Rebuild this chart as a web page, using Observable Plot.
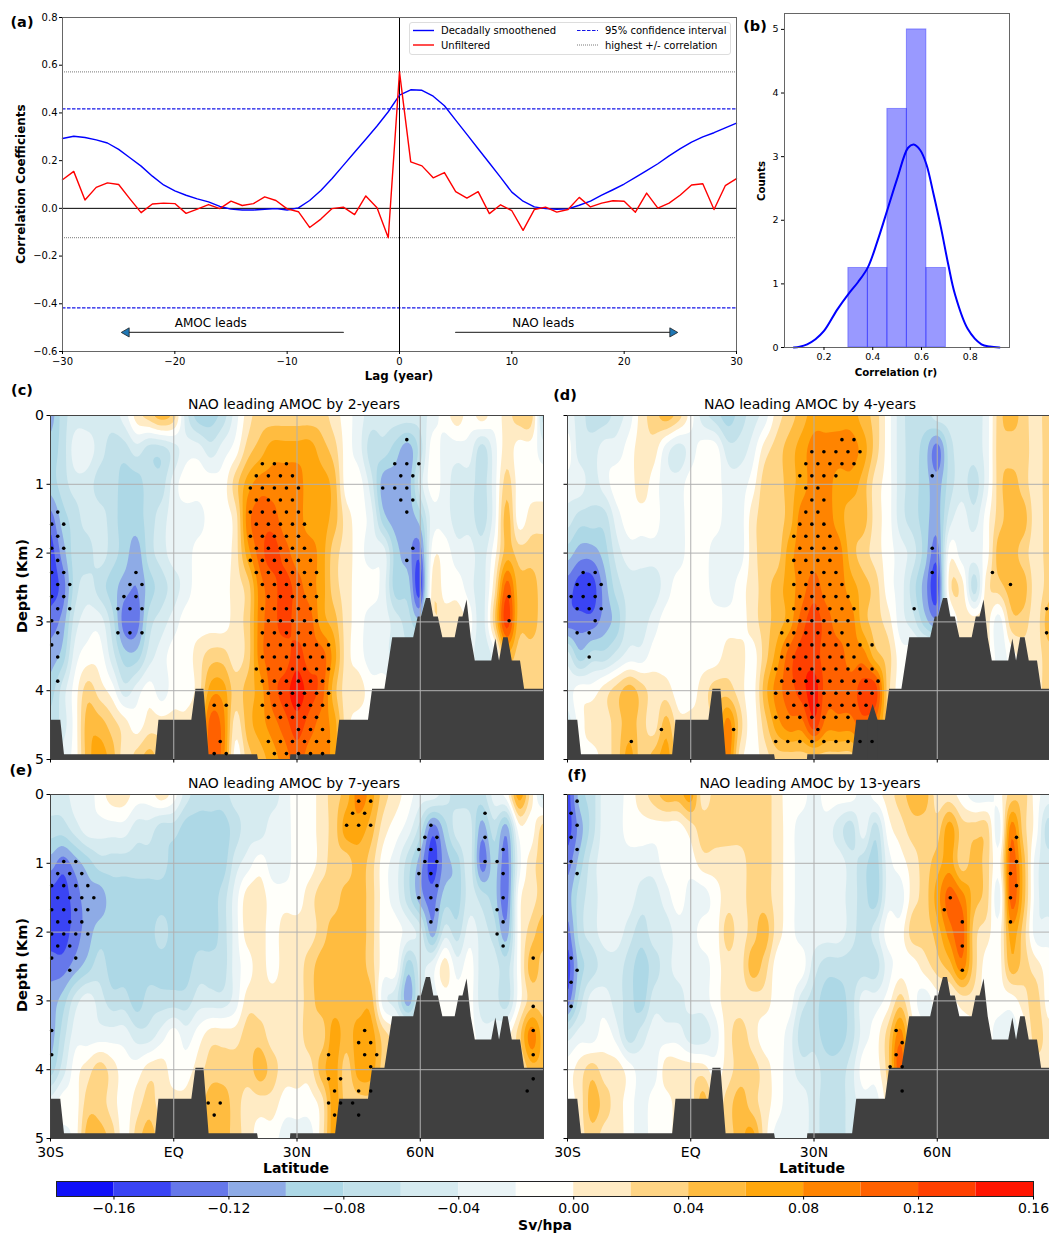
<!DOCTYPE html>
<html><head><meta charset="utf-8">
<script src="https://cdn.jsdelivr.net/npm/d3@7"></script>
<script src="https://cdn.jsdelivr.net/npm/@observablehq/plot@0.6"></script>
<style>
html,body{margin:0;padding:0;background:#fff;overflow:hidden;width:1049px;height:1233px}
#root{position:relative;width:1049px;height:1233px;overflow:hidden;font-family:"DejaVu Sans",sans-serif;color:#000}
#root svg{position:absolute;overflow:visible;background:none}
.lab{position:absolute;white-space:nowrap;transform:translate(-50%,-50%)}
.rot{transform:translate(-50%,-50%) rotate(-90deg)}
</style></head><body><div id="root"></div>
<script>
// ---------- panel (a) ----------
const lags=[-30,-29,-28,-27,-26,-25,-24,-23,-22,-21,-20,-19,-18,-17,-16,-15,-14,-13,-12,-11,-10,-9,-8,-7,-6,-5,-4,-3,-2,-1,0,1,2,3,4,5,6,7,8,9,10,11,12,13,14,15,16,17,18,19,20,21,22,23,24,25,26,27,28,29,30];
const unfiltered=[.12,.155,.035,.088,.107,.10,.04,-.018,.018,.022,.02,-.021,-.003,.016,-.001,.03,.012,.02,.048,.033,-.002,-.014,-.08,-.045,-.001,.005,-.026,.052,.003,-.123,.572,.195,.178,.128,.15,.07,.043,.07,-.022,.015,-.01,-.092,-.005,.005,-.016,-.005,.046,.006,.022,.032,.03,-.016,.064,.001,.022,.056,.098,.103,-.005,.095,.125];
const smoothed=[.293,.302,.297,.287,.274,.247,.212,.177,.135,.098,.073,.055,.04,.027,.008,-.003,-.007,-.007,-.004,-.001,-.007,.002,.033,.075,.125,.18,.235,.29,.345,.405,.475,.497,.495,.47,.43,.37,.31,.25,.19,.13,.068,.03,.006,-.001,-.004,-.002,.013,.03,.055,.078,.102,.13,.158,.187,.22,.25,.278,.3,.317,.337,.357];
const confidence=[.417,-.417];
const extremes=[.572,-.123];
const aTicksY=[-.6,-.4,-.2,0,.2,.4,.6,.8];
const aTicksX=[-30,-20,-10,0,10,20,30];
// ---------- panel (b) ----------
const binEdges=[.3,.38,.46,.54,.62,.70];
const binCounts=[1.25,1.25,3.75,5,1.25];
const kdeX=[.076,.1,.131,.165,.2,.255,.3,.34,.38,.42,.463,.5,.545,.568,.595,.62,.65,.68,.71,.737,.79,.846,.88,.92];
const kdeY=[0,.012,.05,.13,.26,.6,.84,1.03,1.26,1.68,2.2,2.65,3.14,3.19,3.1,2.88,2.4,1.88,1.3,.84,.29,.05,.015,0];
// ---------- sections: values in 0.01 Sv/hPa, depth rows 0,0.5,...5 km, latitude -30..90 every 3 deg ----------
const levels=[-18,-16,-14,-12,-10,-8,-6,-4,-2,0,2,4,6,8,10,12,14,16];
const bandColors=["#1010f8","#3a44f4","#6678ea","#8eabe6","#add8e6","#c2e1ea","#d6ebf0","#eaf4f6","#fffffa","#ffebc4","#ffd585","#ffbc40","#ffa70d","#ff8400","#ff6100","#ff4000","#ff1500"];
const sectionC=[
[-11,-7,-5,-5,-5,-5,-3,1,3,5, 3,-5,-9,-9,-7,-3,1,3,3,3, 3,3,3,1,-1,-3,-5,-5,-5,-5, -5,-3,-1,1,-1,1,-1,1,3,3,-7],
[-9,-7,-3,-3,-5,-7,-7,-5,-7,-7, -5,-3,-3,-5,-3,-1,3,5,7,7, 7,7,5,3,-1,-3,-7,-7,-9,-11, -7,-1,-3,-3,-3,-7,-3,1,-1,-1,-3],
[-9,-7,-5,-5,-7,-7,-9,-9,-7,-7, -3,-1,-1,-1,-1,3,7,9,9,9, 9,7,7,5,-1,-1,-5,-11,-11,-11, -5,-1,-3,-5,-5,-7,-3,3,-1,-1,-1],
[-13,-9,-7,-5,-5,-7,-9,-9,-7,-5, -3,-3,-3,-1,-1,1,9,11,11,9, 9,7,7,5,1,-1,-3,-9,-11,-11, -9,-3,-3,-5,-5,-7,-3,5,-1,1,1],
[-15,-11,-7,-7,-5,-7,-9,-11,-7,-5, -3,-3,-1,-1,-1,1,7,11,13,11, 9,9,7,3,1,-1,-3,-3,-9,-11, -13,-1,-1,-3,-3,-5,-1,5,3,3,3],
[-15,-13,-7,-5,-7,-9,-11,-12,-9,-7, -5,-3,-1,-1,-1,1,3,9,11,13, 11,9,7,3,1,-1,-1,-3,-9,-9, -15,1,-1,-1,-3,-5,1,11,5,5,3],
[-13,-11,-5,-3,-3,-7,-13,-13,-7,-5, -3,-1,-1,-1,-1,1,3,9,11,13, 11,11,7,5,1,-1,-3,-3,-5,-7, -9,1,1,1,-1,-5,3,13,5,5,3],
[-11,-9,-3,-1,-1,-5,-9,-9,-5,-3, -1,-1,1,3,3,1,3,9,11,11, 13,11,11,7,1,-1,-3,-3,-5,-5, -3,-3,-1,-1,-3,-5,-3,5,3,3,3],
[-9,-5,-1,3,1,-1,-5,-3,-1,-3, -1,-1,1,7,7,3,5,7,11,13, 15,13,11,5,1,1,-1,-1,-1,-1, -1,-1,-1,-1,-1,-1,-1,1,3,3,3],
[-7,-5,-1,5,5,3,1,-1,1,1, 1,1,3,11,9,1,5,7,9,11, 13,11,9,7,1,-1,-1,-1,-1,-1, -1,-1,-1,-1,-1,-1,-1,1,3,3,3],
[-5,-3,-1,5,7,5,1,3,5,3, 3,3,3,11,9,-1,3,5,7,9, 11,9,9,7,1,-1,-1,-1,-1,-1, -1,-1,-1,-1,-1,-1,-1,1,3,3,3]];
const sectionD=[
[-3,-5,-7,-7,-5,-3,1,3,5,3, -1,-5,-7,-9,-7,-5,-3,1,3,5, 7,7,7,7,5,3,-1,-5,-7,-7, -5,-5,-5,-5,-3,3,5,3,1,3,1],
[-1,-5,-5,-3,-3,-1,1,1,-3,-5, -3,-1,-1,-5,-5,-3,1,3,5,7, 9,9,9,9,7,3,-1,-5,-7,-9, -13,-7,-5,-5,-3,3,3,3,1,3,3],
[-3,-3,-5,-3,-1,-1,1,-1,-3,-3, -1,-1,-1,-3,-3,-1,3,3,5,7, 9,9,7,7,5,1,-1,-5,-7,-9, -11,-7,-5,-7,-3,3,5,3,1,3,3],
[-5,-7,-7,-7,-3,-1,-1,-1,-3,-3, -1,-1,-1,-3,-3,1,3,3,5,9, 9,9,7,5,5,1,-1,-5,-7,-9, -11,-5,-3,-5,-1,3,5,5,1,3,3],
[-9,-11,-11,-9,-5,-3,-3,-3,-3,-3, -1,-1,-3,-3,-3,1,3,3,7,9, 9,9,9,5,3,1,-1,-3,-5,-9, -13,-1,-3,-3,-1,5,5,3,1,3,5],
[-13,-15,-15,-11,-7,-5,-5,-5,-3,-1, -1,-1,-3,-3,-1,1,3,5,7,9, 11,9,9,7,5,3,-1,-3,-7,-11, -15,1,1,-7,1,3,5,5,1,3,5],
[-13,-13,-13,-11,-9,-5,-5,-3,-1,-1, -1,-1,-1,-1,-1,1,3,5,7,11, 13,11,9,9,5,3,1,-3,-5,-9, -11,-3,1,1,1,-3,3,3,1,5,5],
[-5,-9,-7,-7,-5,-3,-3,-1,-1,-1, -1,-1,-1,1,1,-1,3,7,11,13, 13,11,11,9,9,5,3,-1,-1,-1, -1,1,1,1,1,-3,-1,1,1,3,3],
[-3,-1,-1,1,3,5,3,1,1,-1, -1,1,3,3,1,-1,5,9,11,13, 15,11,11,11,13,13,3,-1,-1,-1, -1,-1,-1,-1,-1,-1,-1,1,1,3,3],
[-5,-1,1,1,3,5,3,1,5,1, 1,1,3,9,3,-1,3,7,9,9, 13,9,9,9,11,9,3,-1,-1,-1, -1,-1,-1,-1,-1,-1,-1,1,1,3,3],
[-5,-1,-1,1,3,7,3,5,7,3, 3,3,3,9,1,-1,1,3,3,3, 3,3,3,3,5,5,3,-1,-1,-1, -1,-1,-1,-1,-1,-1,-1,1,1,3,3]];
const sectionE=[
[-5,-5,-3,-3,-1,1,1,-1,-1,1, -1,-5,-7,-7,-7,-5,-5,-5,-5,-3, -1,-1,1,3,5,9,7,3,1,-1, -3,-3,-5,-7,-7,-7,-3,-1,7,1,-5],
[-7,-7,-5,-3,-3,-3,-3,-5,-5,-7, -7,-9,-9,-9,-9,-7,-5,-5,-3,-3, -1,-1,1,3,7,7,5,1,-1,-3, -7,-13,-9,-5,-5,-11,-7,-11,-1,-1,3],
[-11,-13,-11,-9,-7,-7,-7,-7,-7,-7, -9,-9,-9,-9,-9,-5,-3,-1,-3,-3, -1,-1,1,3,3,5,3,-1,-3,-7, -11,-15,-11,-9,-5,-13,-9,-13,-3,1,3],
[-15,-15,-13,-11,-11,-9,-9,-9,-9,-9, -9,-9,-9,-9,-7,-3,1,1,-1,-1, -1,1,3,3,5,5,3,-1,-3,-7, -11,-13,-9,-9,-5,-7,-9,-13,-1,1,3],
[-15,-15,-13,-11,-9,-9,-9,-9,-9,-7, -9,-9,-9,-9,-7,-3,1,1,-1,1, 1,1,3,5,5,5,3,-1,-1,-3, -5,-11,-5,-7,-3,-5,-7,-11,-1,3,5],
[-13,-13,-11,-9,-7,-9,-9,-9,-9,-9, -9,-9,-7,-7,-7,-3,-1,1,-1,1, 1,3,5,5,5,5,3,-1,-1,-9, -5,-3,1,-3,-1,-5,-5,-7,-1,5,3],
[-11,-9,-5,-3,-5,-7,-7,-9,-7,-7, -7,-7,-5,-5,-5,-3,1,1,1,1, 1,3,5,5,5,5,5,-3,-5,-11, -5,-3,-1,-1,-1,-5,-5,-7,-1,3,3],
[-11,-7,-3,-3,-3,-3,-3,-5,-5,-3, -1,-3,-1,1,1,1,3,3,1,1, 1,3,3,7,5,7,7,3,1,-1, -1,-1,-1,-1,-1,-3,-3,-1,3,9,5],
[-9,-5,-1,1,3,1,-1,-1,1,1, -1,-1,1,3,3,3,3,5,3,1, 1,1,5,7,3,7,7,3,1,-1, -1,-1,-1,-1,-1,-1,-1,-1,1,5,5],
[-3,-1,-1,3,3,1,-1,1,3,1, 1,1,3,5,5,3,1,1,1,-1, -1,-1,1,7,3,3,3,1,1,-1, -1,-1,-1,-1,-1,-1,-1,-1,1,3,3],
[-3,-3,-1,5,5,3,-1,3,5,3, 3,3,3,5,5,3,1,-1,-1,-3, -3,-3,1,7,3,3,3,1,1,-1, -1,-1,-1,-1,-1,-1,-1,-1,1,3,3]];
const sectionF=[
[-15,-9,-7,-3,-3,-1,1,3,5,5, 7,1,3,3,3,3,3,1,-1,-1, -3,-1,-1,-1,-3,-1,1,3,5,5, 1,1,-1,-3,-3,-1,3,3,-1,-3,-3],
[-15,-11,-7,-3,-3,-1,-1,-1,-1,-1, 1,3,3,3,3,3,3,1,-1,-3, -3,-3,-5,-7,-3,-7,-1,1,3,3, 3,7,3,3,3,-3,9,3,-1,-7,-3],
[-13,-9,-5,-3,-3,-3,-3,-3,-1,-1, -1,1,1,1,1,3,3,1,-1,-3, -3,-3,-3,-5,-7,-9,-3,-1,1,3, 5,7,3,5,3,-1,11,5,-3,-5,-5],
[-11,-7,-5,-3,-3,-3,-5,-5,-3,-1, -3,-3,-1,1,1,3,3,1,-1,-3, -3,-3,-3,-5,-7,-9,-3,-3,1,3, 7,11,9,5,3,-3,11,5,-3,-5,-5],
[-13,-7,-5,-3,-3,-5,-7,-5,-5,-3, -3,-1,-1,3,1,3,5,1,-1,-3, -3,-3,-3,-5,-7,-5,-1,-1,3,3, 5,9,11,3,1,-1,7,3,-3,-3,-3],
[-15,-9,-7,-5,-5,-7,-9,-7,-5,-3, -3,-3,-1,1,1,5,3,-1,-1,-1, -5,-7,-7,-7,-7,-7,-3,-1,-1,1, 3,5,9,3,-1,-1,5,3,1,-1,-1],
[-13,-7,-3,-3,-5,-7,-9,-5,-5,-5, -3,-3,-1,1,1,1,1,-1,-1,-5, -7,-9,-9,-7,-3,-3,-1,3,-1,-3, -1,-1,1,1,-1,-1,-1,1,3,-1,-1],
[-5,-3,-3,-1,-3,-7,-5,-3,-3,-3, -5,-5,-3,1,3,1,-1,-1,-3,-7, -7,-9,-9,-7,-3,-1,3,9,1,-1, -1,-1,-1,-1,-1,-3,-3,-1,3,1,1],
[-1,1,3,1,1,-1,-3,-3,1,1, 1,1,-1,1,3,3,1,-1,-3,-5, -5,-7,-7,-5,-1,-1,3,11,1,-1, -1,-1,-1,-1,-1,-1,-1,-1,1,1,1],
[-1,1,5,3,1,-1,-3,-1,-1,1, 1,5,1,3,5,3,1,-1,-3,-3, -5,-7,-7,-5,-3,-3,1,3,1,-1, -1,-1,-1,-1,-1,-1,-1,-1,1,1,1],
[-1,1,3,1,1,-1,-3,-1,-1,1, 1,3,1,3,5,7,1,-3,-3,-3, -5,-7,-7,-5,-3,-3,1,1,1,-1, -1,-1,-1,-1,-1,-1,-1,-1,1,1,1]];
// ---------- sea floor ----------
const floorLat=[-30,-27.5,-26.6,-4.4,-3.6,4.4,5.4,7.35,8.6,20.4,20.6,28.4,28.5,39.4,40.4,47.4,48.4,51.4,53.3,58.4,59.5,60.3,61.5,62.5,63.3,64.4,65.5,68.5,69.5,70.4,71.4,72.4,73.4,77.4,78.4,79.3,80.3,81.4,82.4,84.4,85.4,90];
const floorDepth=[4.43,4.43,4.93,4.93,4.43,4.43,3.98,3.98,4.93,4.93,5,5,4.93,4.93,4.43,4.43,3.98,3.98,3.23,3.23,2.93,2.93,2.66,2.66,2.93,2.93,3.23,3.23,2.93,2.93,2.68,3.23,3.57,3.57,3.25,3.57,3.23,3.23,3.57,3.57,3.98,3.98];
const ridgeLat=[43.2,44.4,45.6];
const ridgeDepth=[4.43,4.2,4.43];
// ---------- stippling: [row, first column, last column] on the hatch lattice ----------
const stipC=[[2,29,29],[4,28,30],[5,29,30],[6,27,29],[7,29,30],[8,29,29],[11,30,30],[12,29,29],
[8,0,0],[9,0,1],[10,0,0],[11,0,1],[12,0,0],[13,0,1],[14,0,1],[15,0,1],[16,0,1],[17,0,0],[18,0,0],[19,0,0],[20,0,0],[22,0,0],
[13,7,7],[14,6,7],[15,6,7],[16,5,7],[18,5,7],
[4,17,19],[5,17,20],[6,16,20],[7,17,20],[8,16,20],[9,17,21],[10,16,20],[11,17,21],[12,16,21],[13,17,22],[14,17,21],[15,18,22],[16,17,21],[17,18,22],[18,17,21],[19,18,23],[20,17,22],[21,17,23],[22,17,22],[23,18,23],[24,17,22],[25,18,22],[26,20,22],[27,18,23],[28,18,22],
[24,13,14],[27,14,14],[28,13,14],[15,38,38],[17,38,38]];
const stipD=[[2,22,23],[3,20,24],[4,19,23],[5,19,22],[6,19,20],[7,20,21],[8,19,20],[9,19,21],[10,18,21],[11,19,22],[12,18,21],[13,19,22],[14,18,22],[15,19,23],[16,18,23],[17,18,23],[18,17,22],[19,18,25],[20,17,23],[21,17,25],[22,17,25],[23,17,25],[24,18,24],[25,17,23],[26,20,20],[27,17,25],
[13,1,2],[14,0,2],[15,0,2],[16,0,2],[17,2,2],[18,0,1],[20,1,1],
[5,30,30],[11,30,30],[13,30,30],[16,28,28],[26,7,7],[27,5,5],[26,13,13],[13,35,35],[14,36,36],[16,39,39],[18,39,39]];
const stipE=[[5,1,2],[6,0,2],[7,0,3],[8,0,3],[9,0,3],[10,0,2],[11,0,3],[12,0,1],[13,0,0],[13,2,2],[14,1,1],[19,0,0],[21,0,0],
[0,25,26],[1,25,26],[2,24,26],
[2,31,31],[3,31,32],[4,30,31],[5,31,32],[6,30,31],[7,32,32],[8,30,31],[9,32,32],[10,31,31],
[1,36,36],[3,36,36],[4,37,37],[5,36,37],[6,37,37],[8,37,37],[9,37,37],[10,37,37],[11,37,37],[12,37,37],
[19,26,26],[20,25,26],[21,23,23],[21,26,27],[22,26,26],[23,23,24],[24,23,23],[24,25,26],[25,23,25],[26,23,23],[26,25,25],
[26,13,13],[25,13,14],[13,40,40],[17,40,40],[19,40,40],[21,40,40],[23,40,40],[24,39,39]];
const stipF=[[0,0,0],[1,0,0],[2,0,0],[3,0,0],[4,0,0],[5,0,0],[6,0,0],[13,0,0],[14,0,0],[15,0,0],[17,0,0],
[3,37,37],[4,36,36],[5,37,37],[6,36,36],[7,37,37],[8,36,36],[8,31,31],[9,31,31],[10,32,32],[10,36,36],[12,32,32],[14,32,32],
[19,27,27],[20,27,27],[21,27,27],[22,26,27],[24,27,27]];
const depthTicks=[0,1,2,3,4,5];
const latTicks=[-30,0,30,60];
const latNames=["30S","EQ","30N","60N"];
const cbarTicks=[-.16,-.12,-.08,-.04,0,.04,.08,.12,.16];

const root=document.getElementById("root");
const FONT='"DejaVu Sans", sans-serif';
function place(svg,left,top){svg.style.left=left+"px";svg.style.top=top+"px";root.appendChild(svg);}
function label(t,x,y,size,bold,rot){const s=document.createElement("div");s.className="lab"+(rot?" rot":"");s.textContent=t;s.style.left=x+"px";s.style.top=y+"px";s.style.fontSize=size+"px";if(bold)s.style.fontWeight="bold";root.appendChild(s);}
const zip=(a,b)=>a.map((v,i)=>({x:v,y:b[i]}));
const fmt1=d3.format(".1f");

// panel a
place(Plot.plot({width:745,height:385,marginLeft:62,marginRight:9,marginTop:17,marginBottom:34,
 style:{fontFamily:FONT,fontSize:"10px",color:"#000",background:"none"},
 x:{domain:[-30,30],axis:null},y:{domain:[-.6,.8],axis:null},
 marks:[
  Plot.ruleY(extremes,{stroke:"#555",strokeWidth:.8,strokeDasharray:"1,1"}),
  Plot.ruleY(confidence,{stroke:"#1515e8",strokeWidth:1.1,strokeDasharray:"3.5,1.5"}),
  Plot.ruleY([0],{stroke:"#000",strokeWidth:1}),
  Plot.ruleX([0],{stroke:"#000",strokeWidth:1}),
  Plot.line(zip(lags,smoothed),{x:"x",y:"y",stroke:"#0000ff",strokeWidth:1.4}),
  Plot.line(zip(lags,unfiltered),{x:"x",y:"y",stroke:"#ff0000",strokeWidth:1.4}),
  Plot.line(zip([-5,-24.5],[-.52,-.52]),{x:"x",y:"y",stroke:"#444",strokeWidth:1.2}),
  Plot.line(zip([5,24.5],[-.52,-.52]),{x:"x",y:"y",stroke:"#444",strokeWidth:1.2}),
  Plot.dot(zip([-24.3],[-.52]),{x:"x",y:"y",symbol:"triangle",rotate:-90,r:3.4,fill:"#1f77b4",stroke:"#222",strokeWidth:.8}),
  Plot.dot(zip([24.3],[-.52]),{x:"x",y:"y",symbol:"triangle",rotate:90,r:3.4,fill:"#1f77b4",stroke:"#222",strokeWidth:.8}),
  Plot.text(["AMOC leads"],{x:()=>-16.8,y:()=>-.482,fontSize:12,fill:"#000"}),
  Plot.text(["NAO leads"],{x:()=>12.8,y:()=>-.482,fontSize:12,fill:"#000"}),
  Plot.frame({stroke:"#666",strokeWidth:1}),
  Plot.axisX({ticks:aTicksX,tickSize:3,tickPadding:3,label:null,fontSize:10,tickFormat:d3.format("d"),anchor:"bottom"}),
  Plot.axisY({ticks:aTicksY,tickSize:3,tickPadding:2,label:null,fontSize:10,tickFormat:fmt1,anchor:"left"})
 ]}),0,0);

// panel b
place(Plot.plot({width:270,height:385,marginLeft:44,marginRight:1,marginTop:13,marginBottom:38,
 style:{fontFamily:FONT,fontSize:"10px",color:"#000",background:"none"},
 x:{domain:[.038,.961],axis:null},y:{domain:[0,5.25],axis:null},
 marks:[
  Plot.rectY(binCounts.map((c,i)=>({a:binEdges[i],b:binEdges[i+1],c})),{x1:"a",x2:"b",y1:()=>0,y2:"c",fill:"#0000ff",fillOpacity:.4,stroke:"#0000ff",strokeOpacity:.35,strokeWidth:1}),
  Plot.line(zip(kdeX,kdeY),{x:"x",y:"y",stroke:"#0000ff",strokeWidth:2,curve:"catmull-rom"}),
  Plot.frame({stroke:"#666",strokeWidth:1}),
  Plot.axisX({ticks:[.2,.4,.6,.8],tickSize:3,tickPadding:3,label:null,fontSize:9.5,tickFormat:fmt1,anchor:"bottom"}),
  Plot.axisY({ticks:[0,1,2,3,4,5],tickSize:3,tickPadding:3,label:null,fontSize:9.5,tickFormat:d3.format("d"),anchor:"left"})
 ]}),740,0);

// legend of panel a
const lg=document.createElement("div");
lg.style.cssText="position:absolute;left:409px;top:22px;width:320px;height:31px;border:1px solid #ddd;border-radius:3px;background:rgba(255,255,255,.85);font-size:10px";
lg.innerHTML=`<svg width="322" height="33" style="left:0;top:0">
<line x1="3" x2="24" y1="7.5" y2="7.5" stroke="#00f" stroke-width="1.4"/><line x1="3" x2="24" y1="22" y2="22" stroke="#f00" stroke-width="1.4"/>
<line x1="167" x2="188" y1="7.5" y2="7.5" stroke="#1515e8" stroke-width="1.1" stroke-dasharray="3.5,1.5"/><line x1="167" x2="188" y1="22" y2="22" stroke="#555" stroke-width=".8" stroke-dasharray="1,1"/>
<text x="31" y="11" font-size="10">Decadally smoothened</text><text x="31" y="25.5" font-size="10">Unfiltered</text>
<text x="195" y="11" font-size="10">95% confidence interval</text><text x="195" y="25.5" font-size="10">highest +/- correlation</text></svg>`;
root.appendChild(lg);

// smooth reading of a section between its grid values, sampled by Plot.contour
function sampler(values){
 const cr=(a,b,c,d,t)=>.5*(2*b+(c-a)*t+(2*a-5*b+4*c-d)*t*t+(3*b-a-3*c+d)*t*t*t);
 const at=(i,j)=>values[Math.max(0,Math.min(10,j))][Math.max(0,Math.min(40,i))];
 return (lat,depth)=>{
  const u=(lat+30)/3,v=depth/.5,i=Math.floor(u),j=Math.floor(v),s=u-i,t=v-j;
  const r=[-1,0,1,2].map(q=>cr(at(i-1,j+q),at(i,j+q),at(i+1,j+q),at(i+2,j+q),s));
  return cr(r[0],r[1],r[2],r[3],t);
 };
}
// sections
function lattice(rows,off,kOff){const out=[];for(const [k,a,b] of rows)for(let n=a;n<=b;n++)out.push({lat:-30+2.93*(n+off+(k%2===0?.5:0)),depth:(k+kOff)*.1755});return out;}
function section(values,stip,off,kOff,left,top,showY,showX,extra){
 const marks=[
  Plot.contour({x1:-30,x2:90,y1:0,y2:5,pixelSize:2,fill:sampler(values),thresholds:levels,stroke:"none",clip:true}),
  Plot.areaY(zip(floorLat,floorDepth),{x:"x",y1:"y",y2:()=>5,fill:"#404040"})
 ];
 if(extra)marks.push(Plot.areaY(zip(ridgeLat,ridgeDepth),{x:"x",y1:"y",y2:()=>5,fill:"#404040"}));
 marks.push(
  Plot.gridX(latTicks,{stroke:"#b0b0b0",strokeOpacity:1,strokeWidth:1}),
  Plot.gridY([1,2,3,4],{stroke:"#b0b0b0",strokeOpacity:1,strokeWidth:1}),
  Plot.dot(lattice(stip,off,kOff),{x:"lat",y:"depth",r:1.8,fill:"#000",stroke:"none"}),
  Plot.frame({stroke:"#444",strokeWidth:1}),
  Plot.axisX({ticks:latTicks,tickSize:3.5,tickPadding:5,label:null,fontSize:14,anchor:"bottom",tickFormat:showX?(d=>latNames[latTicks.indexOf(d)]):()=>""}),
  Plot.axisY({ticks:depthTicks,tickSize:3.5,tickPadding:3,label:null,fontSize:14,anchor:"left",tickFormat:showY?d3.format("d"):()=>""})
 );
 place(Plot.plot({width:493+30+10,height:344+10+30,marginLeft:30,marginRight:10,marginTop:10,marginBottom:30,
  style:{fontFamily:FONT,fontSize:"14px",color:"#000",background:"none"},
  x:{domain:[-30,90],axis:null},y:{domain:[5,0],axis:null},
  color:{type:"threshold",domain:levels,range:["#0000ff",...bandColors,"#ff0000"]},
  marks}),left-30,top-10);
}
section(sectionC,stipC,.1,0,50,414.5,true,false,false);
section(sectionD,stipD,.3,0,566.5,414.5,false,false,true);
section(sectionE,stipE,.1,.55,50,793.5,true,true,false);
section(sectionF,stipF,.3,.55,566.5,793.5,false,true,false);

// colour bar
const bandRows=bandColors.map((c,i)=>({a:levels[i]/100,b:(i<levels.length-1?levels[i+1]:18)/100,c}));
place(Plot.plot({width:1049,height:48,marginLeft:56,marginRight:16,marginTop:1,marginBottom:32,
 style:{fontFamily:FONT,fontSize:"14px",color:"#000",background:"none"},
 x:{domain:[-.18,.16],axis:null},y:{domain:[0,1],axis:null},
 marks:[
  Plot.rect(bandRows.filter(r=>r.a<.16),{x1:"a",x2:"b",y1:()=>0,y2:()=>1,fill:"c"}),
  Plot.frame({stroke:"#222",strokeWidth:1}),
  Plot.axisX({ticks:cbarTicks,tickSize:3.5,tickPadding:3,label:null,fontSize:14,anchor:"bottom",tickFormat:d3.format(".2f")})
 ]}),0,1179.5);

// text
label("(a)",22,22,14.5,true);label("(b)",755,26,14.5,true);label("(c)",22,390,14.5,true);label("(d)",565,395,14.5,true);label("(e)",21,770,14.5,true);label("(f)",577,775,14.5,true);
label("Lag (year)",399,376,11.8,true);
label("Correlation Coefficients",21,184,12,true,true);
label("Counts",761,181,10.2,true,true);
label("Correlation (r)",896,372,10.2,true);
label("NAO leading AMOC by 2-years",294,404,14);
label("NAO leading AMOC by 4-years",810,404,14);
label("NAO leading AMOC by 7-years",294,783,14);
label("NAO leading AMOC by 13-years",810,783,14);
label("Depth (Km)",22,586,14.5,true,true);
label("Depth (Km)",22,965,14.5,true,true);
label("Latitude",296,1168,14,true);
label("Latitude",812,1168,14,true);
label("Sv/hpa",545,1225,14,true);
</script></body></html>
